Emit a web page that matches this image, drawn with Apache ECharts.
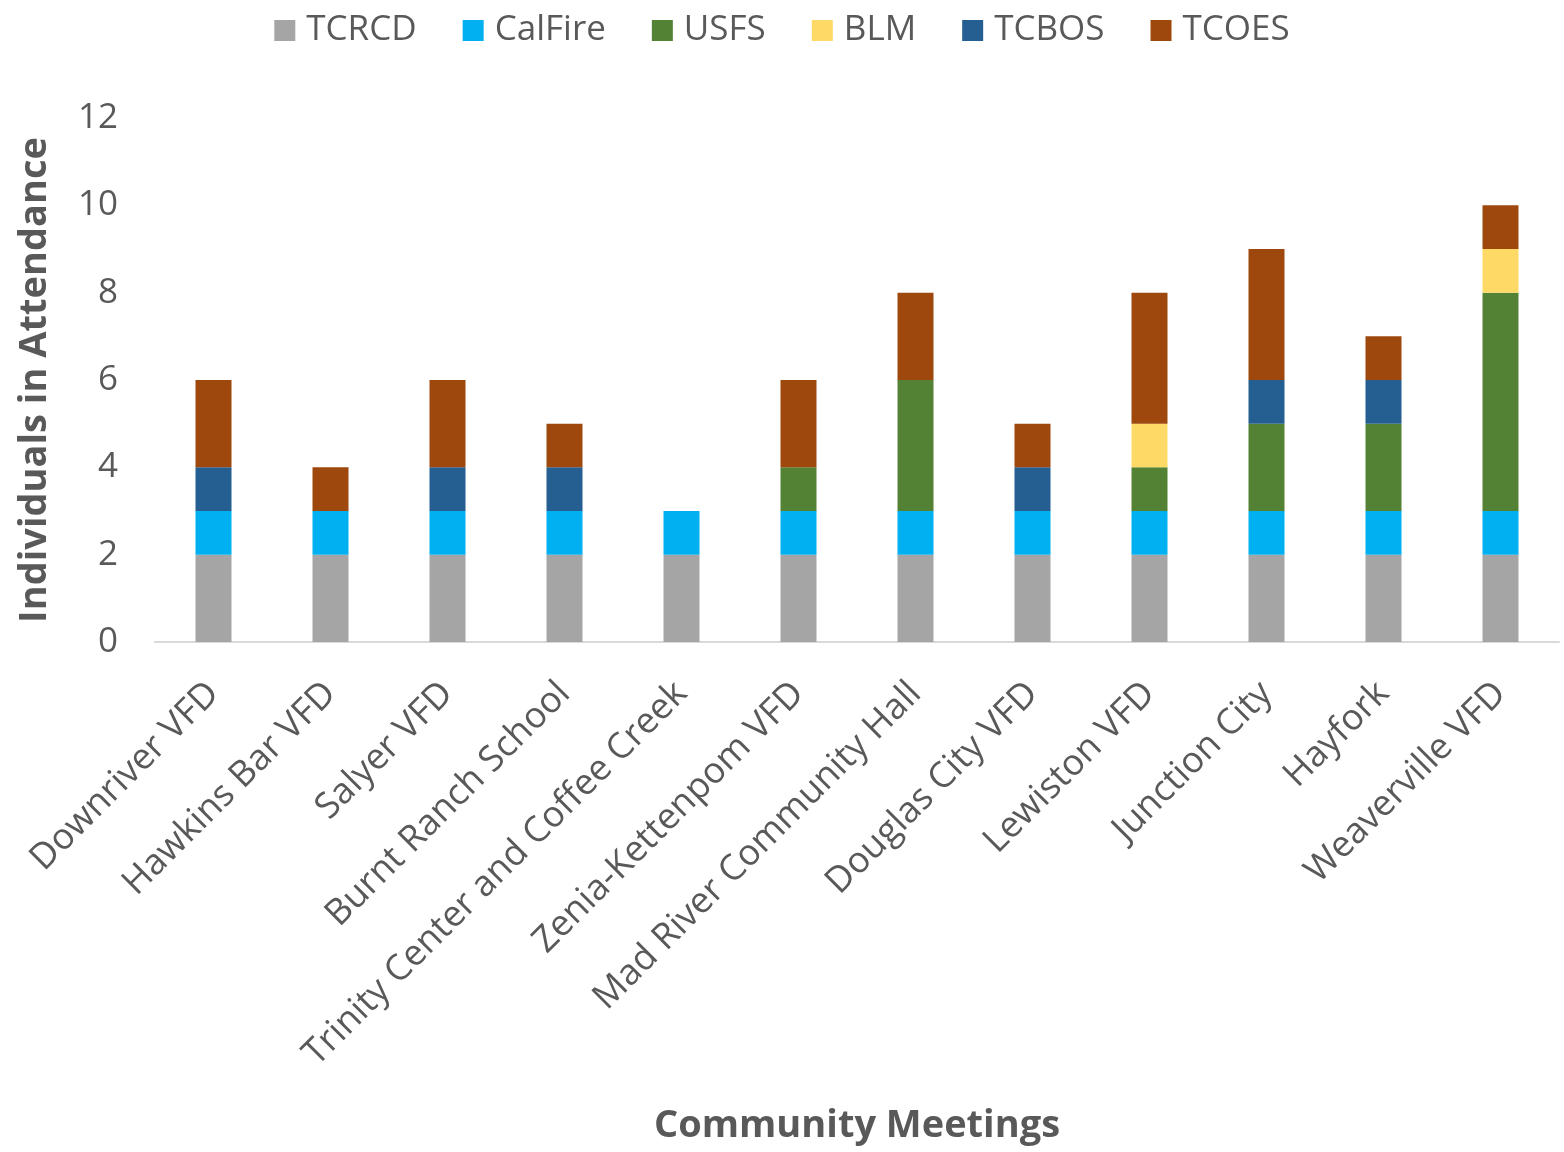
<!DOCTYPE html>
<html><head><meta charset="utf-8">
<script src="https://cdn.jsdelivr.net/npm/echarts@6/dist/echarts.min.js"></script>
<style>html,body{margin:0;padding:0;background:#fff}#c{width:1564px;height:1152px}</style>
</head><body><div id="c"></div>
<script>
const categories = ["Downriver VFD","Hawkins Bar VFD","Salyer VFD","Burnt Ranch School","Trinity Center and Coffee Creek","Zenia-Kettenpom VFD","Mad River Community Hall","Douglas City VFD","Lewiston VFD","Junction City","Hayfork","Weaverville VFD"];
const TCRCD   = [2,2,2,2,2,2,2,2,2,2,2,2];
const CalFire = [1,1,1,1,1,1,1,1,1,1,1,1];
const USFS    = [0,0,0,0,0,1,3,0,1,2,2,5];
const BLM     = [0,0,0,0,0,0,0,0,1,0,0,1];
const TCBOS   = [1,0,1,1,0,0,0,1,0,1,1,0];
const TCOES   = [2,1,2,1,0,2,2,1,3,3,1,1];
const seriesNames = ["TCRCD","CalFire","USFS","BLM","TCBOS","TCOES"];
const seriesData = [TCRCD,CalFire,USFS,BLM,TCBOS,TCOES];
const colors = ["#A5A5A5","#00B0F0","#548235","#FFD966","#255E91","#9E480E"];
const yTicks = [0,2,4,6,8,10,12];

const font = "'Open Sans', 'Noto Sans', sans-serif";
const chart = echarts.init(document.getElementById('c'));
chart.setOption({
  animation:false,
  color: colors,
  textStyle:{fontFamily:font},
  legend:{
    top:8, left:'center',
    itemWidth:21, itemHeight:21, itemGap:46,
    icon:'rect',
    textStyle:{fontSize:35, color:'#595959', fontFamily:font, padding:[0,0,0,6]},
    data: seriesNames
  },
  grid:{left:155, right:5, top:118, bottom:510, containLabel:false},
  xAxis:{
    type:'category', data:categories,
    axisLine:{lineStyle:{color:'#D9D9D9', width:2}},
    axisTick:{show:false},
    axisLabel:{rotate:45, interval:0, fontSize:36, color:'#595959', fontFamily:font, margin:46},
    name:'Community Meetings', nameLocation:'middle', nameGap:465,
    nameTextStyle:{fontSize:38, fontWeight:'bold', color:'#595959', fontFamily:font}
  },
  yAxis:{
    type:'value', min:yTicks[0], max:yTicks[yTicks.length-1], interval:2,
    axisLine:{show:false}, axisTick:{show:false},
    splitLine:{show:false},
    axisLabel:{fontSize:35, color:'#595959', fontFamily:font, margin:37},
    name:'Individuals in Attendance', nameLocation:'middle', nameGap:101, nameRotate:90,
    nameTextStyle:{fontSize:38, fontWeight:'bold', color:'#595959', fontFamily:font}
  },
  series: seriesNames.map((n,i)=>({
    name:n, type:'bar', stack:'total', data:seriesData[i], barWidth:36,
    itemStyle:{color:colors[i]}
  }))
});
</script></body></html>
